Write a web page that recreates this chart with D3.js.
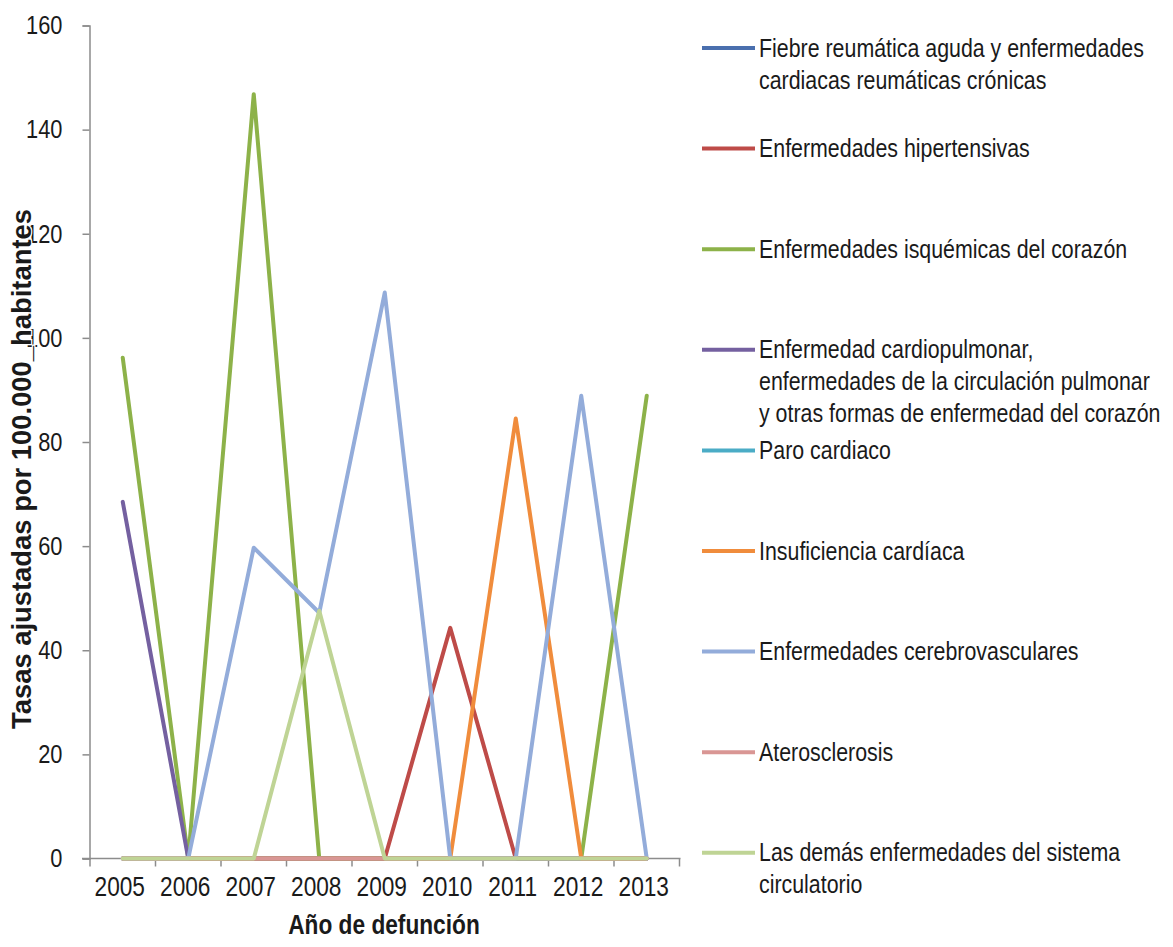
<!DOCTYPE html>
<html>
<head>
<meta charset="utf-8">
<script src="https://cdn.jsdelivr.net/npm/d3@7"></script>
<style>
  html, body { margin: 0; padding: 0; background: #ffffff; }
  svg { display: block; }
  text { font-family: 'Liberation Sans', Arial, sans-serif; fill: #1a1a1a; }
</style>
</head>
<body>
<svg id="chart" width="1173" height="947"></svg>
<script>
// Years on the horizontal axis
const years = ["2005", "2006", "2007", "2008", "2009", "2010", "2011", "2012", "2013"];

// Adjusted rates per 100,000 inhabitants, one array per cause of death
const fiebreReumatica   = [0, 0, 0, 0, 0, 0, 0, 0, 0];
const hipertensivas     = [0, 0, 0, 0, 0, 44.3, 0, 0, 0];
const isquemicas        = [96.2, 0, 146.8, 0, 0, 0, 0, 0, 88.9];
const cardiopulmonar    = [68.5, 0, 0, 0, 0, 0, 0, 0, 0];
const paroCardiaco      = [0, 0, 0, 0, 0, 0, 0, 0, 0];
const insuficiencia     = [0, 0, 0, 0, 0, 0, 84.5, 0, 0];
const cerebrovasculares = [0, 0, 59.7, 47.2, 108.7, 0, 0, 88.9, 0];
const aterosclerosis    = [0, 0, 0, 0, 0, 0, 0, 0, 0];
const demasCirculatorio = [0, 0, 0, 47.6, 0, 0, 0, 0, 0];

// Legend labels (each inner array is one entry, split into lines)
const seriesLabels = [
  ["Fiebre reumática aguda y enfermedades", "cardiacas reumáticas crónicas"],
  ["Enfermedades hipertensivas"],
  ["Enfermedades isquémicas del corazón"],
  ["Enfermedad cardiopulmonar,", "enfermedades de la circulación pulmonar", "y otras formas de enfermedad del corazón"],
  ["Paro cardiaco"],
  ["Insuficiencia cardíaca"],
  ["Enfermedades cerebrovasculares"],
  ["Aterosclerosis"],
  ["Las demás enfermedades del sistema", "circulatorio"]
];
const seriesColors = ["#4A6FAE", "#BE4B48", "#8DB249", "#7460A0", "#4BACC6", "#F08C3C", "#93ACDA", "#D99694", "#BFD495"];

// Y-axis tick values
const yTicks = [0, 20, 40, 60, 80, 100, 120, 140, 160];

const seriesValues = [fiebreReumatica, hipertensivas, isquemicas, cardiopulmonar, paroCardiaco,
                      insuficiencia, cerebrovasculares, aterosclerosis, demasCirculatorio];
const series = seriesValues.map((vals, i) => ({ label: seriesLabels[i], color: seriesColors[i], values: vals }));

// Condense text horizontally to get a narrow sans look
const NARROW = 0.84;
function narrow(sel) {
  sel.each(function() {
    const len = this.getComputedTextLength();
    if (len > 0) {
      d3.select(this).attr("textLength", len * NARROW).attr("lengthAdjust", "spacingAndGlyphs");
    }
  });
}

const svg = d3.select("#chart");
svg.append("rect").attr("width", 1173).attr("height", 947).attr("fill", "#ffffff");

const plot = { left: 90, right: 679.5, top: 25.5, bottom: 858.5 };

const x = d3.scaleBand().domain(years).range([plot.left, plot.right]).paddingInner(0).paddingOuter(0);
const y = d3.scaleLinear().domain([0, 160]).range([plot.bottom, plot.top]);

const axisColor = "#8c8c8c";

// Y axis
const yAxis = svg.append("g")
  .attr("transform", `translate(${plot.left - 0.5},0)`)
  .call(d3.axisLeft(y).tickValues(yTicks).tickSize(7).tickPadding(20).tickFormat(d3.format("d")));
yAxis.select(".domain").attr("stroke", axisColor).attr("stroke-width", 1.5);
yAxis.selectAll(".tick line").attr("stroke", axisColor).attr("stroke-width", 1.5);
yAxis.selectAll(".tick text").attr("font-size", 26).attr("fill", "#1a1a1a")
  .style("font-family", "'Liberation Sans', Arial, sans-serif")
  .call(narrow);

// X axis: ticks at category boundaries, labels at centres
const xAxis = svg.append("g").attr("transform", `translate(0,${plot.bottom})`);
xAxis.append("line")
  .attr("x1", plot.left - 8).attr("x2", plot.right + 1)
  .attr("stroke", axisColor).attr("stroke-width", 1.5);
const boundaries = years.map(yr => x(yr)).concat([x(years[years.length - 1]) + x.bandwidth()]);
xAxis.selectAll("line.tk").data(boundaries).join("line").attr("class", "tk")
  .attr("x1", d => d).attr("x2", d => d).attr("y1", 0).attr("y2", 8)
  .attr("stroke", axisColor).attr("stroke-width", 1.5);
xAxis.selectAll("text.lbl").data(years).join("text").attr("class", "lbl")
  .attr("x", d => x(d) + x.bandwidth() / 2 - 3)
  .attr("y", 37)
  .attr("text-anchor", "middle")
  .attr("font-size", 27)
  .text(d => d)
  .call(narrow);

// Lines
const line = d3.line()
  .x((d, i) => x(years[i]) + x.bandwidth() / 2)
  .y(d => y(d));

svg.append("g").selectAll("path").data(series).join("path")
  .attr("d", s => line(s.values))
  .attr("fill", "none")
  .attr("stroke", s => s.color)
  .attr("stroke-width", 4)
  .attr("stroke-linejoin", "round")
  .attr("stroke-linecap", "round");

// Axis titles
svg.append("text")
  .attr("x", 384).attr("y", 934)
  .attr("text-anchor", "middle")
  .attr("font-size", 27).attr("font-weight", "bold")
  .text("Año de defunción")
  .call(narrow);

const yTitle = svg.append("text")
  .attr("transform", "translate(31,469) rotate(-90)")
  .attr("text-anchor", "middle")
  .attr("font-size", 28).attr("font-weight", "bold")
  .attr("stroke", "#ffffff").attr("stroke-width", 2.5).attr("paint-order", "stroke")
  .text("Tasas ajustadas por 100.000_habitantes");
yTitle.attr("textLength", 520).attr("lengthAdjust", "spacingAndGlyphs");

// Legend: each line is condensed with a horizontal scale
const legendTop = 48, legendStep = 100.6, lineGap = 32, LEGEND_SCALE = 0.855;
const legend = svg.append("g");
const entries = legend.selectAll("g").data(series).join("g")
  .attr("transform", (d, i) => `translate(702,${legendTop + i * legendStep})`);
entries.append("line")
  .attr("x1", 0).attr("x2", 53).attr("y1", 0).attr("y2", 0)
  .attr("stroke", d => d.color).attr("stroke-width", 4);
entries.each(function(d) {
  const g = d3.select(this);
  d.label.forEach((ln, j) => {
    g.append("text")
      .attr("transform", `translate(57,${j * lineGap}) scale(${LEGEND_SCALE},1)`)
      .attr("font-size", 25)
      .attr("dominant-baseline", "central")
      .text(ln);
  });
});
</script>
</body>
</html>
